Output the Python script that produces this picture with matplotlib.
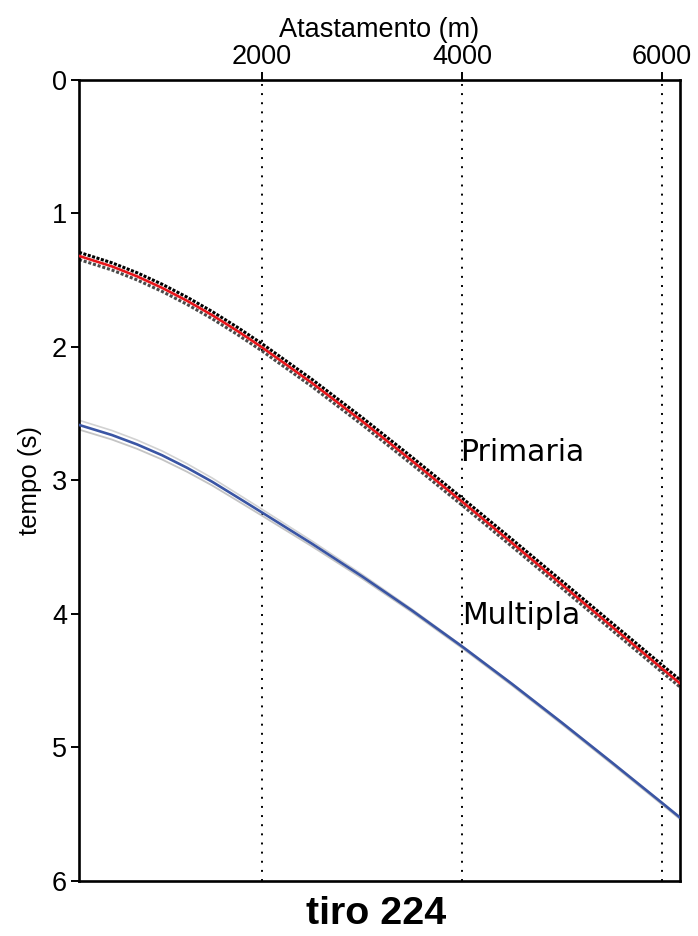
import matplotlib
matplotlib.use("Agg")
import matplotlib.pyplot as plt

# Offsets (m) and travel times (s) picked for shot 224
offsets = [170, 500, 750, 1000, 1250, 1500, 1750, 2000, 2500, 3000, 3500, 4000, 4500, 5000, 5500, 6000, 6180]
primaria = [1.318, 1.397, 1.471, 1.557, 1.654, 1.761, 1.878, 2.003, 2.270, 2.555, 2.853, 3.158, 3.468, 3.781, 4.095, 4.409, 4.520]
primaria_sup = [1.291, 1.370, 1.444, 1.530, 1.627, 1.734, 1.851, 1.976, 2.243, 2.528, 2.826, 3.131, 3.441, 3.754, 4.068, 4.382, 4.493]
primaria_inf = [1.345, 1.424, 1.498, 1.584, 1.681, 1.788, 1.905, 2.030, 2.297, 2.582, 2.880, 3.185, 3.495, 3.808, 4.122, 4.436, 4.547]
multipla = [2.584, 2.660, 2.730, 2.811, 2.905, 3.009, 3.124, 3.240, 3.474, 3.718, 3.974, 4.243, 4.524, 4.815, 5.113, 5.415, 5.525]
multipla_sup = [2.549, 2.626, 2.697, 2.779, 2.875, 2.981, 3.098, 3.216, 3.454, 3.703, 3.964, 4.238, 4.521, 4.812, 5.110, 5.412, 5.522]
multipla_inf = [2.619, 2.694, 2.763, 2.843, 2.935, 3.037, 3.150, 3.264, 3.494, 3.734, 3.987, 4.255, 4.536, 4.827, 5.125, 5.427, 5.537]

xticks = [2000, 4000, 6000]
yticks = [0, 1, 2, 3, 4, 5, 6]

fig = plt.figure(figsize=(6.98, 9.36), dpi=100)
ax = fig.add_axes([0.1132, 0.0588, 0.8610, 0.8558])

# vertical dotted guides
for xv in xticks:
    ax.axvline(xv, color="black", lw=1.4, linestyle=(0, (1, 3.7)), zorder=1)

# multiple reflection with its envelope
ax.plot(offsets, multipla_sup, color="#d2d2d2", lw=1.2, zorder=2)
ax.plot(offsets, multipla_inf, color="#c4c4c4", lw=1.3, zorder=2)
ax.plot(offsets, multipla, color="#3a55a4", lw=1.9, zorder=3)

# primary reflection with its envelope
ax.plot(offsets, primaria_inf, color="#4a4a4a", lw=2.2, linestyle=(0, (1, 0.6)), zorder=2)
ax.plot(offsets, primaria_sup, color="black", lw=2.2, linestyle=(0, (1, 0.5)), zorder=2)
ax.plot(offsets, primaria, color="#e8161b", lw=1.9, zorder=3)

ax.text(3980, 2.79, "Primaria", fontsize=21.5, family="DejaVu Sans", va="center", ha="left")
ax.text(4000, 4.01, "Multipla", fontsize=21.5, family="DejaVu Sans", va="center", ha="left")

ax.set_xlim(170, 6180)
ax.set_ylim(6, 0)
ax.xaxis.tick_top()
ax.xaxis.set_label_position("top")
ax.set_xticks(xticks)
ax.set_yticks(yticks)
ax.tick_params(axis="both", direction="out", length=6, width=1.4, labelsize=19.5)
ax.tick_params(axis="x", pad=1)
ax.tick_params(axis="y", pad=2.5)
for lab in ax.get_xticklabels() + ax.get_yticklabels():
    lab.set_family("Liberation Sans")
for sp in ax.spines.values():
    sp.set_linewidth(1.9)

ax.set_xlabel("Atastamento (m)", fontsize=19.5, family="Liberation Sans", labelpad=5.5)
ax.set_ylabel("tempo (s)", fontsize=18.5, family="Liberation Sans", labelpad=7)

fig.text(0.5387, 0.013, "tiro 224", fontsize=28.4, fontweight="bold", family="Liberation Sans", ha="center", va="baseline")

fig.savefig("out.png", dpi=100)
